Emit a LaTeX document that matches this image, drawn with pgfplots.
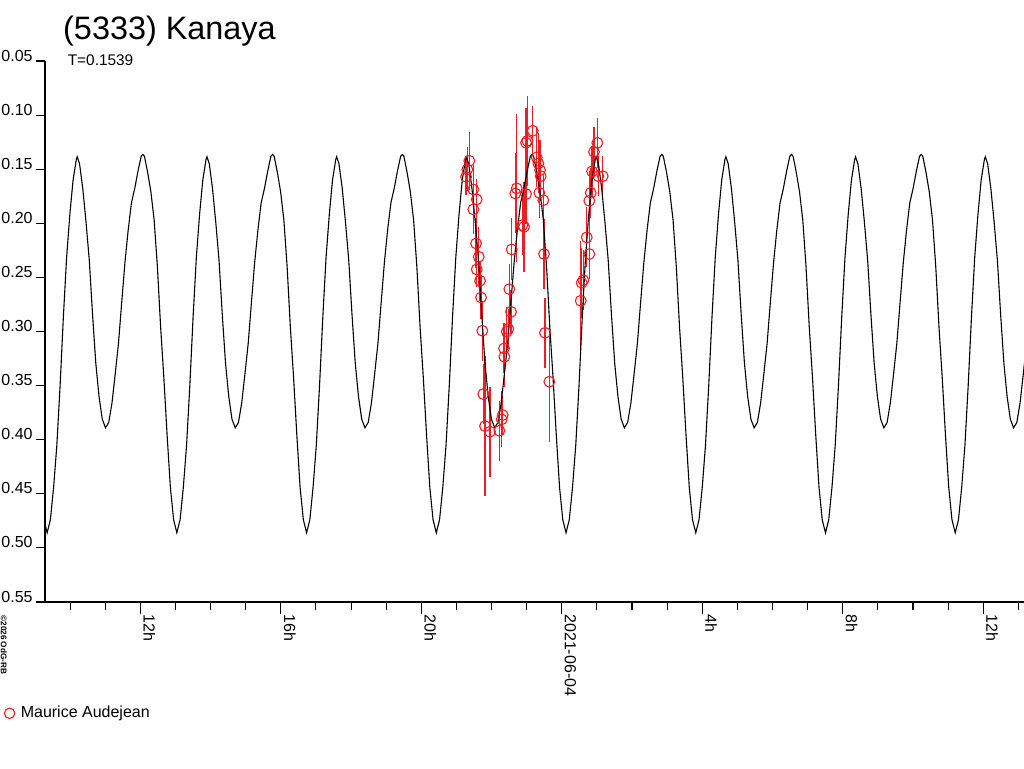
\documentclass[border=0pt]{standalone}
\usepackage{fontspec}
\setmainfont{Liberation Sans}
\usepackage{pgfplots}
\pgfplotsset{compat=1.18}
\usepackage{pgfplotstable}
\definecolor{obsred}{RGB}{237,30,36}

% observations: c = rotation cycles since a deep minimum (t0 = 2021-06-04 02h07), v = magnitude, e = error
\pgfplotstableread{
c v e
-0.7454 0.1422 0.0268
-0.7609 0.1502 0.0203
-0.7709 0.1570 0.0166
-0.7146 0.1687 0.0231
-0.6884 0.1779 0.0185
-0.7146 0.1871 0.0231
-0.6938 0.2186 0.0231
-0.6730 0.2309 0.0277
-0.6884 0.2426 0.0166
-0.6630 0.2531 0.0185
-0.6553 0.2685 0.0203
-0.6452 0.2993 0.0277
-0.6375 0.3578 0.0277
-0.6244 0.3874 0.0647
-0.5859 0.3926 0.0416
-0.5142 0.3917 0.0277
-0.4957 0.3812 0.0259
-0.4880 0.3772 0.0185
-0.4780 0.3156 0.0231
-0.4756 0.3233 0.0277
-0.4571 0.3002 0.0231
-0.4448 0.2977 0.0185
-0.4371 0.2608 0.0231
-0.4240 0.2818 0.0203
-0.4186 0.2241 0.0286
-0.3908 0.1724 0.0370
-0.3800 0.1677 0.0684
-0.3369 0.2017 0.0277
-0.3238 0.2032 0.0416
-0.3084 0.1730 0.0277
-0.3084 0.1256 0.0323
-0.2983 0.1238 0.0416
-0.2567 0.1145 0.0231
-0.2259 0.1391 0.0277
-0.2135 0.1446 0.0277
-0.2004 0.1508 0.0277
-0.1950 0.1564 0.0231
-0.2058 0.1718 0.0231
-0.1750 0.1786 0.0231
-0.1696 0.2284 0.0323
-0.1619 0.3012 0.0323
-0.1287 0.3464 0.0554
0.1133 0.2716 0.0550
0.1210 0.2550 0.0323
0.1334 0.2525 0.0277
0.1596 0.2130 0.0277
0.1796 0.2284 0.0231
0.1796 0.1792 0.0277
0.1904 0.1718 0.0231
0.2004 0.1520 0.0231
0.2158 0.1339 0.0231
0.2413 0.1256 0.0231
0.2490 0.1564 0.0185
0.2829 0.1564 0.0185
}\obsdata

% model lightcurve (period 0.1539 d), x in rotation cycles
\pgfplotstableread{
c v
-4.025 0.474
-4.000 0.486
-3.975 0.474
-3.950 0.444
-3.925 0.405
-3.900 0.350
-3.875 0.287
-3.850 0.232
-3.825 0.192
-3.800 0.160
-3.775 0.141
-3.768 0.1385
-3.750 0.145
-3.725 0.168
-3.700 0.199
-3.675 0.234
-3.650 0.284
-3.625 0.329
-3.600 0.360
-3.575 0.381
-3.550 0.389
-3.525 0.384
-3.500 0.366
-3.475 0.339
-3.450 0.311
-3.425 0.273
-3.400 0.236
-3.375 0.206
-3.350 0.181
-3.325 0.168
-3.300 0.152
-3.275 0.138
-3.262 0.1363
-3.250 0.138
-3.225 0.153
-3.200 0.171
-3.175 0.197
-3.150 0.240
-3.125 0.296
-3.100 0.343
-3.075 0.396
-3.050 0.444
-3.025 0.474
-3.000 0.486
-2.975 0.474
-2.950 0.444
-2.925 0.405
-2.900 0.350
-2.875 0.287
-2.850 0.232
-2.825 0.192
-2.800 0.160
-2.775 0.141
-2.768 0.1385
-2.750 0.145
-2.725 0.168
-2.700 0.199
-2.675 0.234
-2.650 0.284
-2.625 0.329
-2.600 0.360
-2.575 0.381
-2.550 0.389
-2.525 0.384
-2.500 0.366
-2.475 0.339
-2.450 0.311
-2.425 0.273
-2.400 0.236
-2.375 0.206
-2.350 0.181
-2.325 0.168
-2.300 0.152
-2.275 0.138
-2.262 0.1363
-2.250 0.138
-2.225 0.153
-2.200 0.171
-2.175 0.197
-2.150 0.240
-2.125 0.296
-2.100 0.343
-2.075 0.396
-2.050 0.444
-2.025 0.474
-2.000 0.486
-1.975 0.474
-1.950 0.444
-1.925 0.405
-1.900 0.350
-1.875 0.287
-1.850 0.232
-1.825 0.192
-1.800 0.160
-1.775 0.141
-1.768 0.1385
-1.750 0.145
-1.725 0.168
-1.700 0.199
-1.675 0.234
-1.650 0.284
-1.625 0.329
-1.600 0.360
-1.575 0.381
-1.550 0.389
-1.525 0.384
-1.500 0.366
-1.475 0.339
-1.450 0.311
-1.425 0.273
-1.400 0.236
-1.375 0.206
-1.350 0.181
-1.325 0.168
-1.300 0.152
-1.275 0.138
-1.262 0.1363
-1.250 0.138
-1.225 0.153
-1.200 0.171
-1.175 0.197
-1.150 0.240
-1.125 0.296
-1.100 0.343
-1.075 0.396
-1.050 0.444
-1.025 0.474
-1.000 0.486
-0.975 0.474
-0.950 0.444
-0.925 0.405
-0.900 0.350
-0.875 0.287
-0.850 0.232
-0.825 0.192
-0.800 0.160
-0.775 0.141
-0.768 0.1385
-0.750 0.145
-0.725 0.168
-0.700 0.199
-0.675 0.234
-0.650 0.284
-0.625 0.329
-0.600 0.360
-0.575 0.381
-0.550 0.389
-0.525 0.384
-0.500 0.366
-0.475 0.339
-0.450 0.311
-0.425 0.273
-0.400 0.236
-0.375 0.206
-0.350 0.181
-0.325 0.168
-0.300 0.152
-0.275 0.138
-0.262 0.1363
-0.250 0.138
-0.225 0.153
-0.200 0.171
-0.175 0.197
-0.150 0.240
-0.125 0.296
-0.100 0.343
-0.075 0.396
-0.050 0.444
-0.025 0.474
0.000 0.486
0.025 0.474
0.050 0.444
0.075 0.405
0.100 0.350
0.125 0.287
0.150 0.232
0.175 0.192
0.200 0.160
0.225 0.141
0.232 0.1385
0.250 0.145
0.275 0.168
0.300 0.199
0.325 0.234
0.350 0.284
0.375 0.329
0.400 0.360
0.425 0.381
0.450 0.389
0.475 0.384
0.500 0.366
0.525 0.339
0.550 0.311
0.575 0.273
0.600 0.236
0.625 0.206
0.650 0.181
0.675 0.168
0.700 0.152
0.725 0.138
0.738 0.1363
0.750 0.138
0.775 0.153
0.800 0.171
0.825 0.197
0.850 0.240
0.875 0.296
0.900 0.343
0.925 0.396
0.950 0.444
0.975 0.474
1.000 0.486
1.025 0.474
1.050 0.444
1.075 0.405
1.100 0.350
1.125 0.287
1.150 0.232
1.175 0.192
1.200 0.160
1.225 0.141
1.232 0.1385
1.250 0.145
1.275 0.168
1.300 0.199
1.325 0.234
1.350 0.284
1.375 0.329
1.400 0.360
1.425 0.381
1.450 0.389
1.475 0.384
1.500 0.366
1.525 0.339
1.550 0.311
1.575 0.273
1.600 0.236
1.625 0.206
1.650 0.181
1.675 0.168
1.700 0.152
1.725 0.138
1.738 0.1363
1.750 0.138
1.775 0.153
1.800 0.171
1.825 0.197
1.850 0.240
1.875 0.296
1.900 0.343
1.925 0.396
1.950 0.444
1.975 0.474
2.000 0.486
2.025 0.474
2.050 0.444
2.075 0.405
2.100 0.350
2.125 0.287
2.150 0.232
2.175 0.192
2.200 0.160
2.225 0.141
2.232 0.1385
2.250 0.145
2.275 0.168
2.300 0.199
2.325 0.234
2.350 0.284
2.375 0.329
2.400 0.360
2.425 0.381
2.450 0.389
2.475 0.384
2.500 0.366
2.525 0.339
2.550 0.311
2.575 0.273
2.600 0.236
2.625 0.206
2.650 0.181
2.675 0.168
2.700 0.152
2.725 0.138
2.738 0.1363
2.750 0.138
2.775 0.153
2.800 0.171
2.825 0.197
2.850 0.240
2.875 0.296
2.900 0.343
2.925 0.396
2.950 0.444
2.975 0.474
3.000 0.486
3.025 0.474
3.050 0.444
3.075 0.405
3.100 0.350
3.125 0.287
3.150 0.232
3.175 0.192
3.200 0.160
3.225 0.141
3.232 0.1385
3.250 0.145
3.275 0.168
3.300 0.199
3.325 0.234
3.350 0.284
3.375 0.329
3.400 0.360
3.425 0.381
3.450 0.389
3.475 0.384
3.500 0.366
3.525 0.339
3.550 0.311
}\modeldata

\begin{document}
\begin{tikzpicture}
\useasboundingbox (-22.5pt,-83pt) rectangle (489.5pt,301pt);
\begin{axis}[
  at={(0pt,0pt)}, anchor=south west,
  scale only axis, width=489.5pt, height=270.5pt,
  xmin=-4.0164, xmax=3.5302,
  ymin=0.05, ymax=0.55, y dir=reverse,
  axis x line*=bottom, axis y line*=left,
  axis line style={line width=0.55pt, black},
  tick align=outside,
  major tick length=6pt, minor tick length=4pt,
  tick style={line width=0.55pt, black},
  ytick style={/pgfplots/major tick length=4.5pt},
  xtick={-3.2816,-2.1987,-1.1157,-0.0328,1.0502,2.1332,3.2161},
  xticklabels={12h,16h,20h,2021-06-04,4h,8h,12h},
  minor xtick={-3.8231,-3.5524,-3.0109,-2.7401,-2.4694,-1.9279,-1.6572,-1.3864,-0.8450,-0.5742,-0.3035,0.2380,0.5087,0.7795,1.3209,1.5917,1.8624,2.4039,2.6746,2.9454,3.4869},
  ytick={0.05,0.10,0.15,0.20,0.25,0.30,0.35,0.40,0.45,0.50,0.55},
  yticklabels={0.05,0.10,0.15,0.20,0.25,0.30,0.35,0.40,0.45,0.50,0.55},
  /pgf/number format/assume math mode=true,
  xticklabel style={font=\fontsize{8}{9.6}\selectfont, xshift=1.6pt, rotate=-90, anchor=base west, inner sep=0pt},
  yticklabel style={font=\fontsize{8}{9.6}\selectfont, anchor=base east, inner sep=0pt},
  legend style={at={(axis description cs:-0.04147,-0.2057)}, anchor=west, draw=none, fill=none,
    inner sep=0pt, outer sep=0pt, font=\fontsize{8}{9.6}\selectfont, column sep=3pt,
    nodes={inner sep=0pt}},
  legend image code/.code={\draw[#1] plot coordinates {(0pt,0pt)};},
]
\addplot[forget plot, only marks, mark=o, mark size=2.7pt,
  mark options={line width=0.55pt, draw=obsred, fill=none},
  error bars/.cd, y dir=both, y explicit,
  error bar style={line width=0.65pt, obsred}, error mark=none]
  table[x=c, y=v, y error=e] {\obsdata};
\addplot[forget plot, black, line width=0.55pt, no marks] table[x=c, y=v] {\modeldata};
\addlegendimage{only marks, mark=o, mark size=2.6pt, draw=obsred, line width=0.55pt}
\addlegendentry{Maurice Audejean}
\end{axis}
\node[anchor=base west, inner sep=0pt, font=\fontsize{16.2}{19}\selectfont] at (8.9pt,281.4pt) {(5333) Kanaya};
\node[anchor=base west, inner sep=0pt, font=\fontsize{7.7}{9}\selectfont] at (11.2pt,268.5pt) {T=0.1539};
\node[rotate=-90, anchor=base west, inner sep=0pt, font=\fontsize{4.1}{5}\selectfont\bfseries] at (-22pt,-6.5pt) {©2026 OdG-RB};
\end{tikzpicture}
\end{document}
